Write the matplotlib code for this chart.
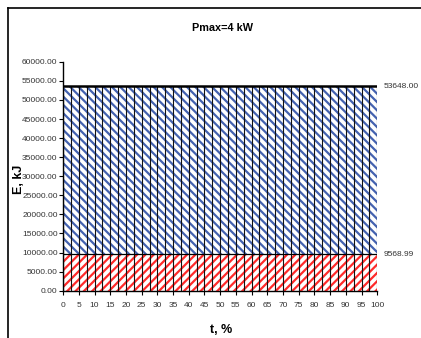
import numpy as np
import matplotlib
matplotlib.use('Agg')
import matplotlib.pyplot as plt
from matplotlib.lines import Line2D

# data (t in %, energies in kJ)
t_pct = np.arange(0, 100.1, 2.5)
e_lower = [9568.99] * len(t_pct)
e_total = [53648.00] * len(t_pct)
y_ticks = np.arange(0, 60001, 5000)
x_ticks = np.arange(0, 101, 5)

plt.rcParams['font.family'] = ['Liberation Sans Narrow', 'Liberation Sans', 'DejaVu Sans']
plt.rcParams['hatch.linewidth'] = 1.6

fig = plt.figure(figsize=(4.21, 3.38), dpi=100)
ax = fig.add_axes([0.150, 0.140, 0.746, 0.677])

# red (lower) and blue (upper) hatched areas
ax.fill_between(t_pct, 0, e_lower, facecolor='white', edgecolor='#ff2a2a',
                hatch='////', linewidth=0)
ax.fill_between(t_pct, e_lower, e_total, facecolor='white', edgecolor='#4462b0',
                hatch='\\\\\\\\', linewidth=0)

# drop lines and area tops
ax.vlines(t_pct, 0, e_total, colors='#111111', linewidth=0.8)
ax.plot(t_pct, e_total, color='black', linewidth=1.8)
ax.plot(t_pct, e_lower, color='black', linewidth=0.9)

# value labels at the last point
ax.text(t_pct[-1] + 2, e_total[-1], '%.2f' % e_total[-1], fontsize=6,
        va='center', ha='left', color='#333333')
ax.text(t_pct[-1] + 2, e_lower[-1], '%.2f' % e_lower[-1], fontsize=6,
        va='center', ha='left', color='#333333')

ax.set_xlim(0, 100)
ax.set_ylim(0, 60000)
ax.set_xticks(x_ticks)
ax.set_yticks(y_ticks)
ax.set_yticklabels(['%.2f' % v for v in y_ticks])
ax.tick_params(axis='both', labelsize=6, length=3, width=0.8,
               direction='out', colors='black', labelcolor='#333333', pad=1)
ax.tick_params(axis='x', pad=5)

for s in ['top', 'right']:
    ax.spines[s].set_visible(False)
for s in ['left', 'bottom']:
    ax.spines[s].set_linewidth(1.0)

fig.text(0.528, 0.918, 'Pmax=4 kW', fontsize=7.8, fontweight='bold',
         ha='center', va='center')
fig.text(0.525, 0.025, 't, %', fontsize=9, fontweight='bold',
         ha='center', va='center')
fig.text(0.045, 0.47, 'E, kJ', fontsize=9, fontweight='bold',
         ha='center', va='center', rotation=90)

# chart area border (only left and top visible in the crop)
fig.add_artist(Line2D([0.019, 0.019], [0, 0.976], color='black', linewidth=1.2,
                      transform=fig.transFigure))
fig.add_artist(Line2D([0.019, 1.0], [0.976, 0.976], color='black', linewidth=1.2,
                      transform=fig.transFigure))

fig.savefig('out.png', dpi=100)
